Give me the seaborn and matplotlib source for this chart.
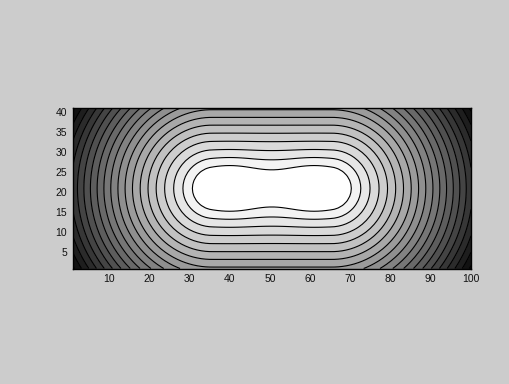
import numpy as np
import matplotlib
matplotlib.use("Agg")
import matplotlib.pyplot as plt
import seaborn as sns

# grid (matrix indices, like contourf(Z) in MATLAB)
x_values = np.arange(1, 101)
y_values = np.arange(1, 42)

# shape of the surface
segment_x = [35.5, 65.5]     # flat ridge along y = centre_y
centre_y = 21
bump_x = [40, 61]           # two humps on the ridge
bump_height = 6.0
bump_width = 5.0
falloff_power = 1.3

# contour levels
levels = [-119.1, -113.2, -107.3, -101.3, -95.4, -89.5, -83.6, -77.6,
          -71.7, -65.8, -59.8, -53.9, -48.0, -42.0, -36.1, -30.2,
          -24.3, -18.3, -12.4, -6.5]

xticks = [10, 20, 30, 40, 50, 60, 70, 80, 90, 100]
yticks = [5, 10, 15, 20, 25, 30, 35, 40]

X, Y = np.meshgrid(x_values, y_values)
dx = np.clip(X, segment_x[0], segment_x[1]) - X
dist = np.hypot(dx, Y - centre_y)
Z = -dist ** falloff_power
for bx in bump_x:
    Z = Z + bump_height * np.exp(-((X - bx) ** 2 + (Y - centre_y) ** 2) / (2 * bump_width ** 2))

sns.set_style("white")
plt.rcParams["font.family"] = ["Liberation Sans", "DejaVu Sans"]

fig = plt.figure(figsize=(5.1, 3.84), dpi=100, facecolor="#cccccc")
ax = fig.add_axes([72.7 / 510, (384 - 268.5) / 384,
                   (471 - 72.7) / 510, (268.5 - 108.3) / 384])

bounds = [Z.min() - 1] + levels + [Z.max() + 1]
# one grey per band, black in the corners up to white on the ridge
band_colors = [str(g) for g in np.linspace(0.02, 1.0, len(bounds) - 1)]
ax.contourf(X, Y, Z, levels=bounds, colors=band_colors)
ax.contour(X, Y, Z, levels=levels, colors="black", linewidths=0.8,
           linestyles="solid")

ax.set_xlim(1, 100)
ax.set_ylim(1, 41)
ax.set_xticks(xticks)
ax.set_yticks(yticks)
ax.tick_params(direction="in", length=0, labelsize=7.5, colors="#111111", pad=4)
for s in ax.spines.values():
    s.set_color("black")
    s.set_linewidth(1.0)

fig.savefig("out.png", dpi=100, facecolor="#cccccc")
